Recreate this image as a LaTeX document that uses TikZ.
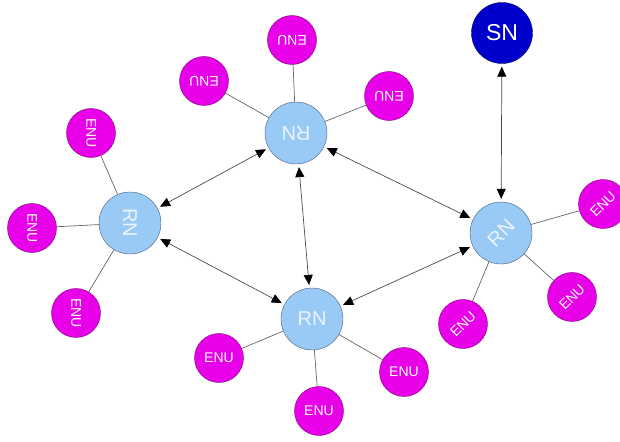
\documentclass[tikz,border=0pt]{standalone}
\usepackage{fontspec}
\setmainfont{Liberation Sans}
\usetikzlibrary{arrows.meta}
\definecolor{rnblue}{RGB}{153,201,245}
\definecolor{rnedge}{RGB}{70,90,120}
\definecolor{rntext}{RGB}{235,244,255}
\definecolor{enupink}{RGB}{232,0,232}
\definecolor{enuedge}{RGB}{125,0,125}
\definecolor{snblue}{RGB}{0,0,204}
\definecolor{snedge}{RGB}{0,0,90}
\tikzset{
  rn/.style={circle,draw=rnedge,fill=rnblue,minimum size=62pt,inner sep=0pt,
    text=rntext,font=\fontsize{20}{20}\selectfont},
  enu/.style={circle,draw=enuedge,fill=enupink,minimum size=49pt,inner sep=0pt,
    text=white,font=\fontsize{14}{14}\selectfont},
  sn/.style={circle,draw=snedge,fill=snblue,minimum size=61pt,inner sep=0pt,
    text=white,font=\fontsize{23}{23}\selectfont},
  link/.style={draw=black!60,line width=0.7pt},
  duplex/.style={<->,draw=black!70,line width=0.7pt,shorten >=3pt,shorten <=3pt}
}
\begin{document}
\begin{tikzpicture}[x=1pt,y=-1pt,>={Triangle[length=10pt,width=9pt,black]}]
\useasboundingbox (0,0) rectangle (620,441);
% relay nodes
\node [rn,rotate=180] (rntop) at (296,133) {RN};
\node [rn,rotate=-90] (rnleft) at (130,223) {RN};
\node [rn] (rnbot) at (312,319) {RN};
\node [rn,rotate=45] (rnright) at (501,233) {RN};
\node [sn] (sn) at (502,33) {SN};

% end nodes
\node [enu,rotate=180] (et1) at (292,40) {ENU};
\node [enu,rotate=180] (et2) at (204,81) {ENU};
\node [enu,rotate=180] (et3) at (389,96) {ENU};

\node [enu,rotate=-90] (el1) at (91,133) {ENU};
\node [enu,rotate=-90] (el2) at (32,228) {ENU};
\node [enu,rotate=-90] (el3) at (76,313) {ENU};

\node [enu] (eb1) at (219,358) {ENU};
\node [enu] (eb2) at (319,411) {ENU};
\node [enu] (eb3) at (404,372) {ENU};

\node [enu,rotate=45] (er1) at (603,204) {ENU};
\node [enu,rotate=45] (er2) at (572,297) {ENU};
\node [enu,rotate=45] (er3) at (463,324) {ENU};

\draw [link] (et1) -- (rntop);
\draw [link] (et2) -- (rntop);
\draw [link] (et3) -- (rntop);
\draw [link] (el1) -- (rnleft);
\draw [link] (el2) -- (rnleft);
\draw [link] (el3) -- (rnleft);
\draw [link] (eb1) -- (rnbot);
\draw [link] (eb2) -- (rnbot);
\draw [link] (eb3) -- (rnbot);
\draw [link] (er1) -- (rnright);
\draw [link] (er2) -- (rnright);
\draw [link] (er3) -- (rnright);

% relay links
\draw [duplex] (rntop) -- (rnleft);
\draw [duplex] (rntop) -- (rnbot);
\draw [duplex] (rntop) -- (rnright);
\draw [duplex] (rnleft) -- (rnbot);
\draw [duplex] (rnbot) -- (rnright);
\draw [duplex] (sn) -- (rnright);
\end{tikzpicture}
\end{document}
